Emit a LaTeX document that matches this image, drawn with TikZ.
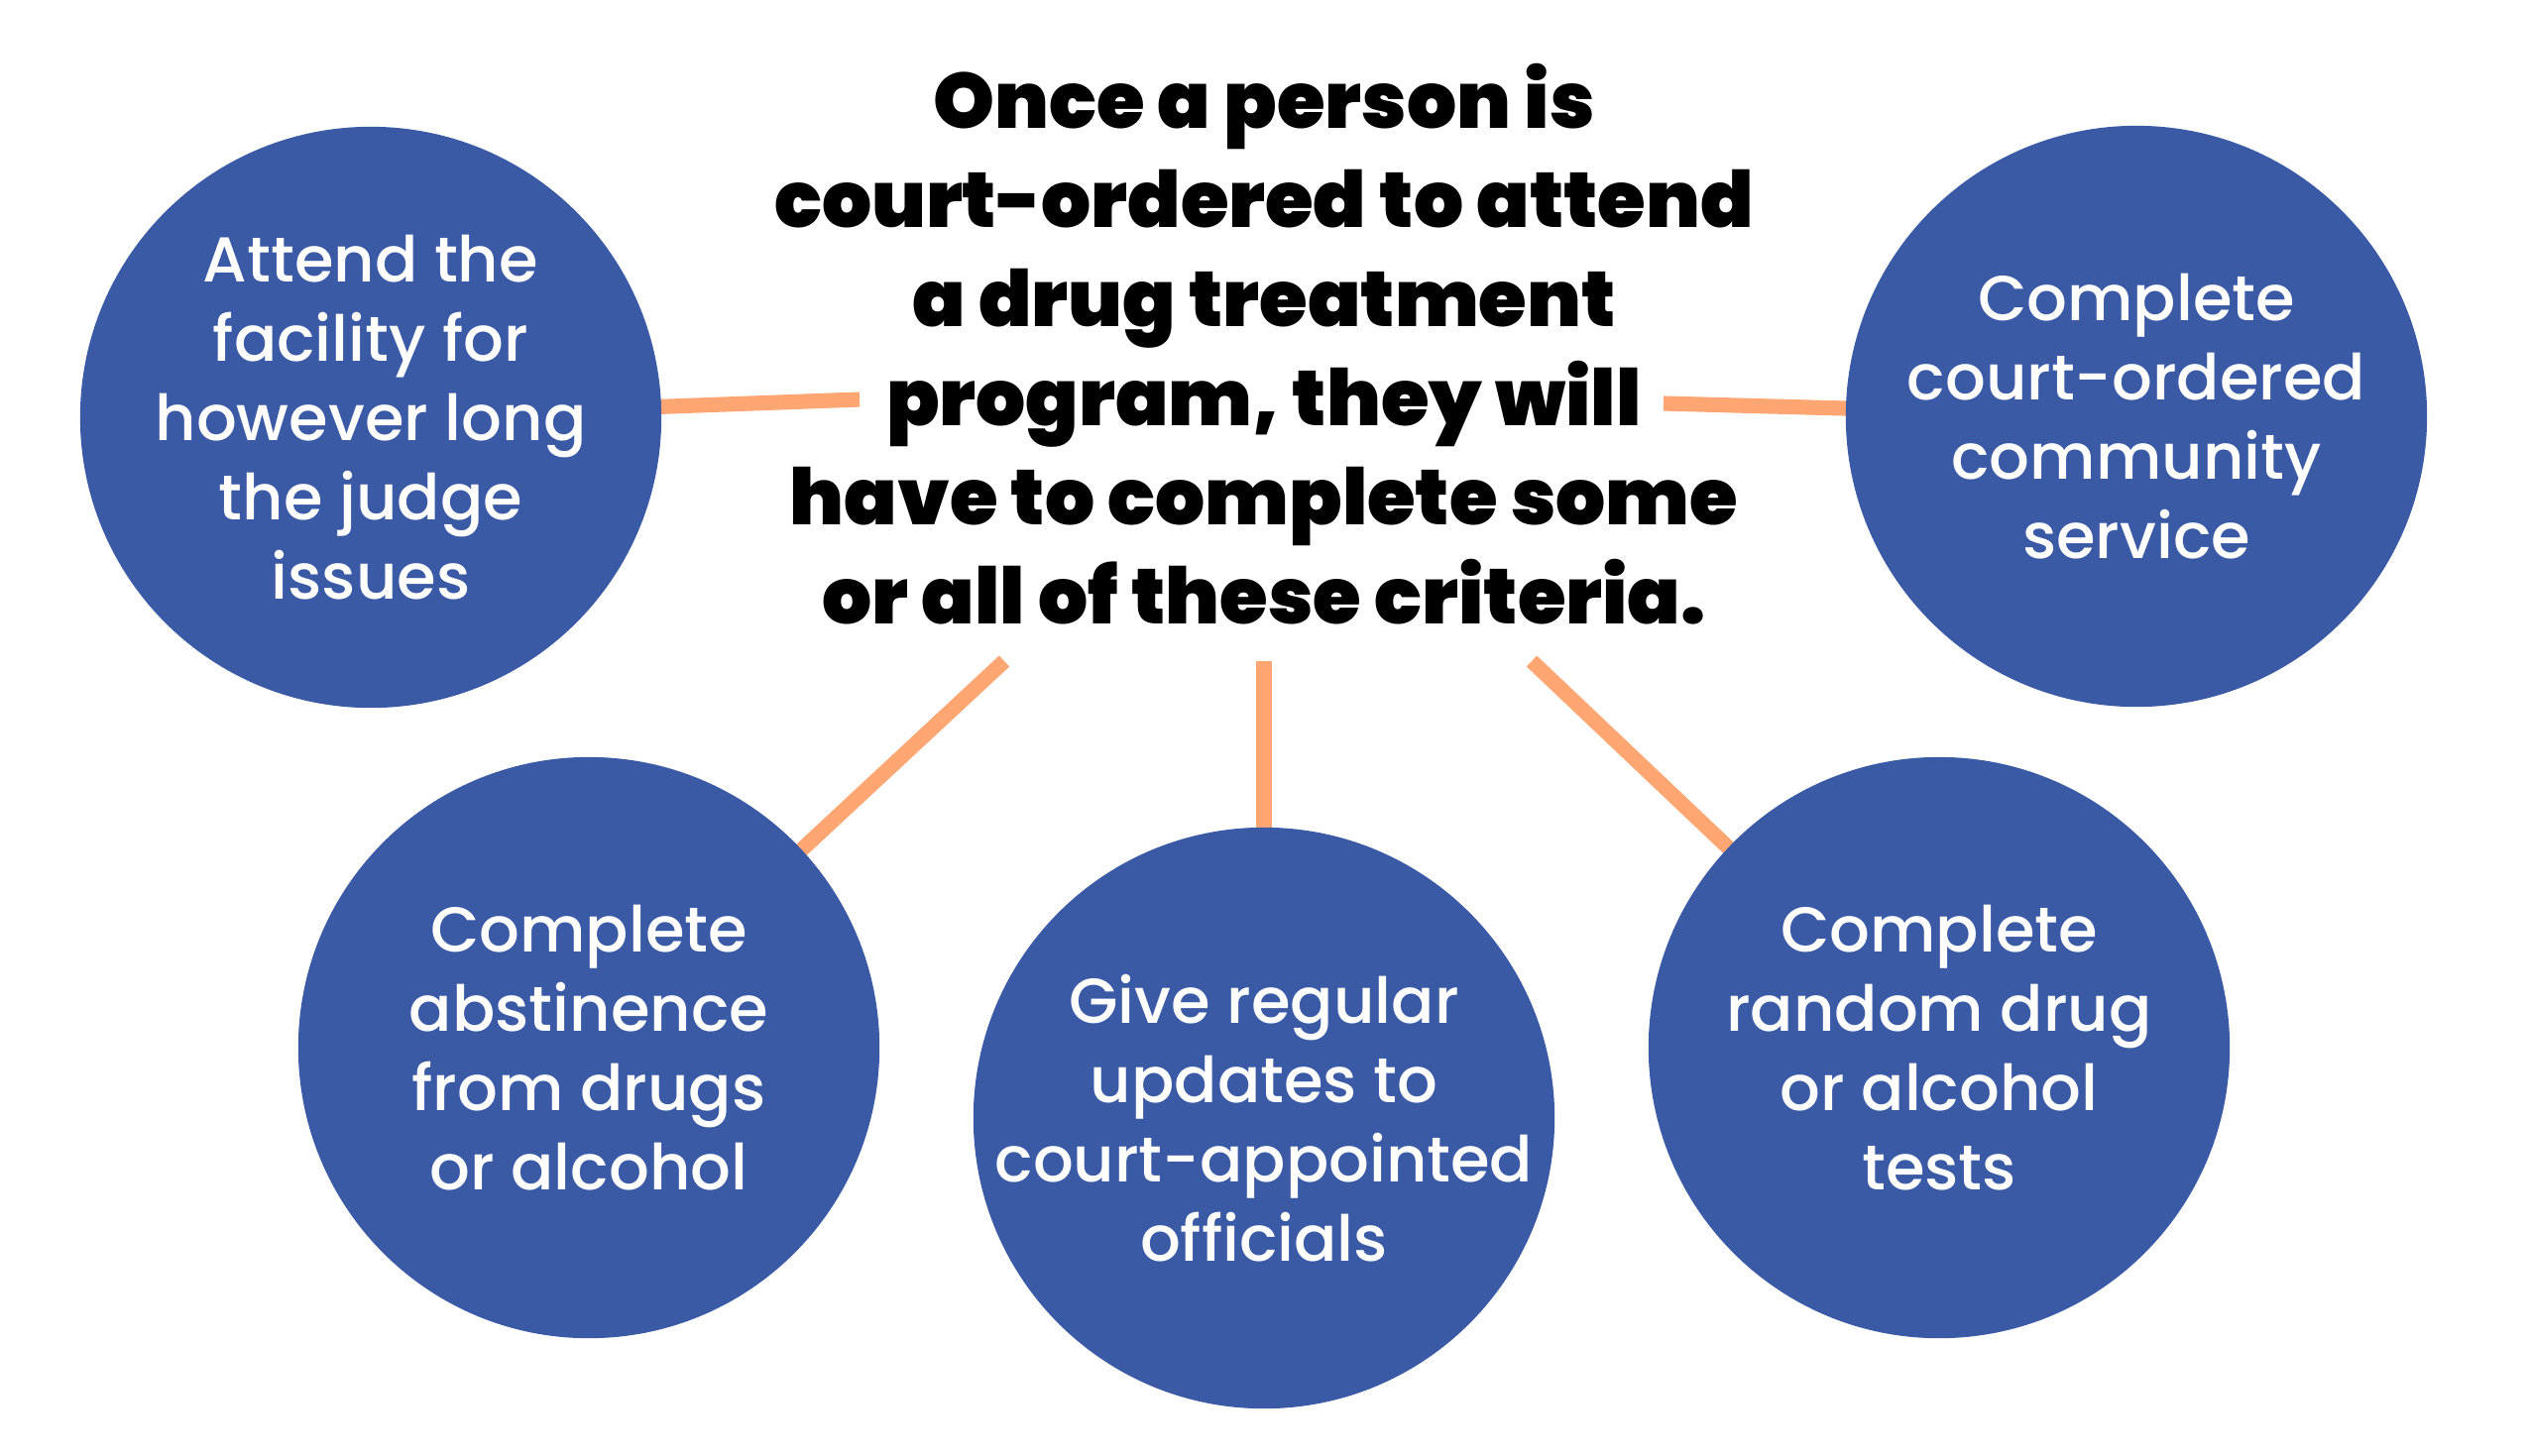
\documentclass[tikz,border=0pt]{standalone}
\usepackage{fontspec}
\newfontfamily\titlefont{Poppins Black}
\newfontfamily\circfont{Poppins Medium}
\definecolor{cblue}{HTML}{3A5AA6}
\definecolor{corange}{HTML}{FFA672}
\pgfdeclarelayer{back}
\pgfdeclarelayer{bg}
\pgfsetlayers{back,bg,main}
\begin{document}
\begin{tikzpicture}[x=0.01cm,y=-0.01cm,
  bubble/.style={circle,fill=cblue,minimum size=5.86cm,inner sep=-40pt,text=white,align=center,
    font=\circfont\fontsize{18.2}{22.7}\selectfont},
  heading/.style={align=center,inner sep=0pt,text=black,
    font=\titlefont\fontsize{22.4}{28.45}\selectfont},
  link/.style={draw=corange,line width=4.3pt}]
\useasboundingbox (0,0) rectangle (2550,1468);
\begin{pgfonlayer}{back}
\fill[white] (0,0) rectangle (2550,1468);
\end{pgfonlayer}

\node[heading] (title) at (1275,347) {Once a person is\\court-ordered to attend\\a drug treatment\\program, they will\\have to complete some\\or all of these criteria.};

\node[bubble] (tl) at (374,421) {Attend the\\facility for\\however long\\the judge\\issues};
\node[bubble] (tr) at (2155,420) {Complete\\court-ordered\\community\\service};
\node[bubble] (bl) at (594,1057) {Complete\\abstinence\\from drugs\\or alcohol};
\node[bubble] (bm) at (1275,1128) {Give regular\\updates to\\court-appointed\\officials};
\node[bubble] (br) at (1956,1057) {Complete\\random drug\\or alcohol\\tests};

\coordinate (pl) at (867,403);
\coordinate (pr) at (1678,407);
\coordinate (pbl) at (1013,667);
\coordinate (pbm) at (1275,667);
\coordinate (pbr) at (1545,667);

\begin{pgfonlayer}{bg}
\draw[link] (pl) -- (tl.center);
\draw[link] (pr) -- (tr.center);
\draw[link] (pbl) -- (bl.center);
\draw[link] (pbm) -- (bm.center);
\draw[link] (pbr) -- (br.center);
\end{pgfonlayer}
\end{tikzpicture}
\end{document}
